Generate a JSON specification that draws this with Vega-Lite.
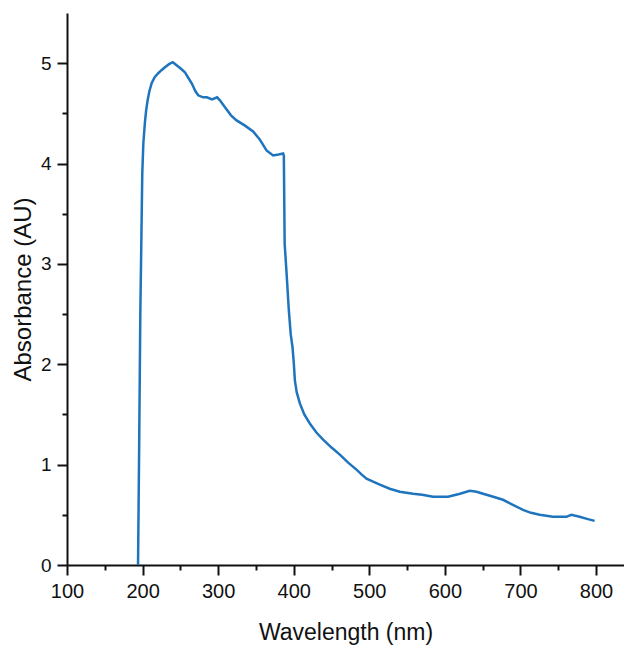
{
  "$schema": "https://vega.github.io/schema/vega-lite/v6.json",
  "width": 557,
  "height": 552,
  "autosize": "none",
  "padding": {"left": 67, "top": 13, "right": 0, "bottom": 85},
  "background": "white",
  "config": {
    "view": {"stroke": null},
    "axis": {
      "grid": false,
      "domainColor": "#111111",
      "tickColor": "#111111",
      "domainWidth": 2,
      "tickWidth": 2,
      "labelFont": "Liberation Sans",
      "titleFont": "Liberation Sans",
      "labelColor": "#111111",
      "titleColor": "#111111",
      "titleFontWeight": "normal",
      "labelFlush": false,
      "labelOverlap": false
    }
  },
  "data": {
    "values": [
      {"wl": 194, "abs": 0},
      {"wl": 195.5, "abs": 1.2},
      {"wl": 197, "abs": 2.5},
      {"wl": 198.5, "abs": 3.3},
      {"wl": 199.6, "abs": 3.9},
      {"wl": 201, "abs": 4.2},
      {"wl": 203, "abs": 4.4},
      {"wl": 204.7, "abs": 4.53},
      {"wl": 206.7, "abs": 4.63},
      {"wl": 209, "abs": 4.72},
      {"wl": 212, "abs": 4.8},
      {"wl": 216, "abs": 4.86},
      {"wl": 220.7, "abs": 4.9},
      {"wl": 225, "abs": 4.93},
      {"wl": 229.6, "abs": 4.96},
      {"wl": 235, "abs": 4.99},
      {"wl": 240, "abs": 5.01},
      {"wl": 245, "abs": 4.98},
      {"wl": 250, "abs": 4.95},
      {"wl": 256, "abs": 4.91},
      {"wl": 260, "abs": 4.86},
      {"wl": 265, "abs": 4.8},
      {"wl": 270, "abs": 4.72},
      {"wl": 273.6, "abs": 4.68},
      {"wl": 280, "abs": 4.66},
      {"wl": 285, "abs": 4.66},
      {"wl": 292, "abs": 4.64},
      {"wl": 298.7, "abs": 4.66},
      {"wl": 302.3, "abs": 4.63},
      {"wl": 310, "abs": 4.55},
      {"wl": 317, "abs": 4.48},
      {"wl": 324.4, "abs": 4.43},
      {"wl": 335, "abs": 4.38},
      {"wl": 346.3, "abs": 4.32},
      {"wl": 355, "abs": 4.24},
      {"wl": 364, "abs": 4.13},
      {"wl": 372.8, "abs": 4.08},
      {"wl": 380, "abs": 4.09},
      {"wl": 386, "abs": 4.1},
      {"wl": 386.9, "abs": 4.08},
      {"wl": 388, "abs": 3.2},
      {"wl": 390.5, "abs": 2.91},
      {"wl": 393.5, "abs": 2.54},
      {"wl": 396, "abs": 2.3},
      {"wl": 398.4, "abs": 2.17},
      {"wl": 400.2, "abs": 2.0},
      {"wl": 401.5, "abs": 1.84},
      {"wl": 404, "abs": 1.72},
      {"wl": 408.1, "abs": 1.61},
      {"wl": 414, "abs": 1.5},
      {"wl": 421.3, "abs": 1.41},
      {"wl": 430, "abs": 1.32},
      {"wl": 438.9, "abs": 1.25},
      {"wl": 450, "abs": 1.17},
      {"wl": 461, "abs": 1.1},
      {"wl": 472, "abs": 1.02},
      {"wl": 483, "abs": 0.95},
      {"wl": 490, "abs": 0.9},
      {"wl": 496.3, "abs": 0.86},
      {"wl": 505, "abs": 0.83},
      {"wl": 513.9, "abs": 0.8},
      {"wl": 527, "abs": 0.76},
      {"wl": 540.3, "abs": 0.73},
      {"wl": 557.9, "abs": 0.71},
      {"wl": 570, "abs": 0.7},
      {"wl": 584.3, "abs": 0.68},
      {"wl": 604.2, "abs": 0.68},
      {"wl": 620, "abs": 0.71},
      {"wl": 632.9, "abs": 0.74},
      {"wl": 642, "abs": 0.73},
      {"wl": 650.5, "abs": 0.71},
      {"wl": 664, "abs": 0.68},
      {"wl": 676.9, "abs": 0.65},
      {"wl": 690, "abs": 0.6},
      {"wl": 703.3, "abs": 0.55},
      {"wl": 714, "abs": 0.52},
      {"wl": 725.4, "abs": 0.5},
      {"wl": 743, "abs": 0.48},
      {"wl": 760.7, "abs": 0.48},
      {"wl": 767.3, "abs": 0.5},
      {"wl": 778.3, "abs": 0.48},
      {"wl": 788, "abs": 0.46},
      {"wl": 798.1, "abs": 0.44}
    ]
  },
  "layer": [
    {
      "mark": {"type": "line", "color": "#1f74be", "strokeWidth": 2.5},
      "encoding": {
        "x": {
          "field": "wl",
          "type": "quantitative",
          "scale": {"domain": [100, 837], "nice": false, "zero": false},
          "axis": {
            "orient": "bottom",
            "values": [100, 200, 300, 400, 500, 600, 700, 800],
            "tickSize": 10,
            "labelPadding": 6,
            "labelFontSize": 20,
            "title": "Wavelength (nm)",
            "titleFontSize": 23,
            "titlePadding": 20
          }
        },
        "y": {
          "field": "abs",
          "type": "quantitative",
          "scale": {"domain": [0, 5.5], "nice": false, "zero": true},
          "axis": {
            "orient": "left",
            "values": [0, 1, 2, 3, 4, 5],
            "tickSize": 10,
            "labelPadding": 6,
            "labelFontSize": 19,
            "title": "Absorbance (AU)",
            "titleFontSize": 24,
            "titlePadding": 5
          }
        }
      }
    },
    {
      "mark": {"type": "line", "opacity": 0},
      "encoding": {
        "x": {
          "field": "wl",
          "type": "quantitative",
          "axis": {
            "orient": "bottom",
            "values": [150, 250, 350, 450, 550, 650, 750],
            "tickSize": 5,
            "labels": false,
            "domain": false,
            "title": null
          }
        },
        "y": {
          "field": "abs",
          "type": "quantitative",
          "axis": {
            "orient": "left",
            "values": [0.5, 1.5, 2.5, 3.5, 4.5],
            "tickSize": 5,
            "labels": false,
            "domain": false,
            "title": null
          }
        }
      }
    }
  ],
  "resolve": {"axis": {"x": "independent", "y": "independent"}}
}
